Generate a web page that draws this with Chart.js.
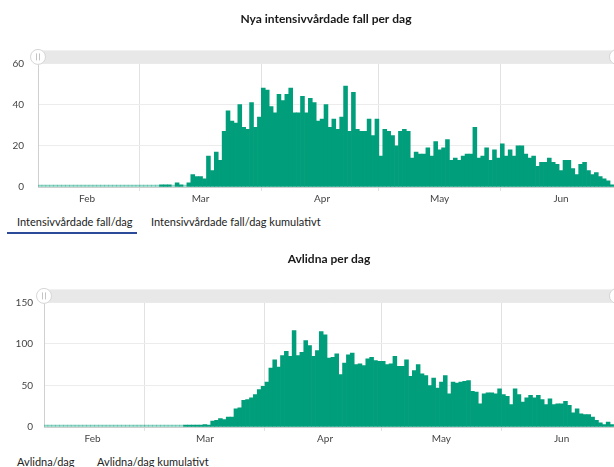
<!DOCTYPE html>
<html>
<head>
<meta charset="utf-8">
<script src="https://cdn.jsdelivr.net/npm/chart.js@4/dist/chart.umd.min.js"></script>
<style>
  body { margin: 0; background: #fff; width: 614px; height: 467px; overflow: hidden; position: relative; font-family: Lato, "Open Sans", sans-serif; }
  .box { position: absolute; left: 0; width: 614px; height: 207px; }
  #box1 { top: 0; }
  #box2 { top: 240px; }
  .tab { position: absolute; font-size: 11px; color: #222; white-space: nowrap; line-height: 14px; }
  .underline { position: absolute; left: 7px; width: 130px; height: 2px; top: 232px; background: #2c4a9a; }
</style>
</head>
<body>
<div class="box" id="box1"><canvas id="icuChart"></canvas></div>
<div class="tab" style="left:17px;top:215px">Intensivvårdade fall/dag</div>
<div class="tab" style="left:151px;top:215px">Intensivvårdade fall/dag kumulativt</div>
<div class="underline"></div>
<div class="box" id="box2"><canvas id="deathChart"></canvas></div>
<div class="tab" style="left:17px;top:455px">Avlidna/dag</div>
<div class="tab" style="left:97px;top:455px">Avlidna/dag kumulativt</div>
<script>
// months shown, 2020 (Feb starts on the 4th)
var months = ['Feb', 'Mar', 'Apr', 'May', 'Jun'];
var monthNum = [2, 3, 4, 5, 6];
var firstDay = [4, 1, 1, 1, 1];
var lastDay = [29, 31, 30, 31, 29];

// Nya intensivvårdade fall per dag
var icuFeb = [0,0,0,0,0,0,0,0,0,0,0,0,0,0,0,0,0,0,0,0,0,0,0,0,0,0];
var icuMar = [0,0,0,0,0,1,1,1,0,2,1,0,2,6,5,5,4,15,8,17,13,27,37,32,31,40,29,28,41,29,34];
var icuApr = [48,47,39,36,45,42,45,48,36,36,44,36,43,41,32,33,40,29,33,28,34,49,27,46,28,27,27,33,25,33];
var icuMay = [15,28,27,25,20,27,28,27,14,17,16,16,19,15,22,18,19,23,13,14,13,15,16,16,29,14,15,19,13,18,14];
var icuJun = [21,15,18,15,20,20,16,14,15,10,12,12,14,12,11,8,13,13,9,6,11,12,8,6,7,5,4,3,1];

// Avlidna per dag
var deathsFeb = [0,0,0,0,0,0,0,0,0,0,0,0,0,0,0,0,0,0,0,0,0,0,0,0,0,0];
var deathsMar = [0,0,0,0,0,0,0,0,0,0,1,1,1,2,2,3,2,7,8,10,9,12,12,22,23,32,33,35,39,45,49];
var deathsApr = [54,71,81,72,86,91,85,116,86,90,104,98,85,92,115,111,83,84,88,63,77,87,89,75,76,74,82,84,80,79];
var deathsMay = [79,75,76,85,73,73,81,61,68,75,64,62,50,59,47,54,62,40,54,53,54,55,56,43,42,28,40,41,41,40,46];
var deathsJun = [39,37,27,46,39,30,35,38,35,38,33,27,34,27,28,28,31,26,17,22,16,15,15,12,8,5,3,6,3];

var icuTicks = [0, 20, 40, 60];
var deathTicks = [0, 50, 100, 150];

var labels = [], dayOf = [], monthOf = [];
for (var m = 0; m < months.length; m++) {
  for (var d = firstDay[m]; d <= lastDay[m]; d++) {
    labels.push('2020-' + String(monthNum[m]).padStart(2, '0') + '-' + String(d).padStart(2, '0'));
    dayOf.push(d);
    monthOf.push(months[m]);
  }
}

var icu = icuFeb.concat(icuMar, icuApr, icuMay, icuJun);
var deaths = deathsFeb.concat(deathsMar, deathsApr, deathsMay, deathsJun);

var green = 'rgb(0,158,123)';

// grey scroll band with handles above the plot
var scrollbar = {
  id: 'scrollbar',
  afterDraw: function (chart) {
    var c = chart.ctx, a = chart.chartArea;
    c.save();
    c.fillStyle = '#e8e8e8';
    c.fillRect(a.left, a.top - 13, a.right - a.left + 10, 13);
    [a.left, a.right + 3].forEach(function (x) {
      var y = a.top - 6.5;
      c.beginPath();
      c.arc(x, y, 7.5, 0, Math.PI * 2);
      c.fillStyle = '#fff';
      c.fill();
      c.strokeStyle = '#d6d6d6';
      c.lineWidth = 1;
      c.stroke();
      c.strokeStyle = '#c4c4c4';
      c.beginPath();
      c.moveTo(x - 1.5, y - 3.5); c.lineTo(x - 1.5, y + 3.5);
      c.moveTo(x + 1.5, y - 3.5); c.lineTo(x + 1.5, y + 3.5);
      c.stroke();
    });
    c.restore();
  }
};

function makeChart(id, title, values, ticks, axisWidth, tickPad, titleBottom) {
  return new Chart(document.getElementById(id), {
    type: 'bar',
    data: {
      labels: labels,
      datasets: [{
        data: values,
        backgroundColor: function (ctx) { return ctx.raw === 0 ? 'rgba(0,158,123,0.45)' : green; },
        barPercentage: 1,
        categoryPercentage: 1,
        borderWidth: 0,
        minBarLength: 2
      }]
    },
    options: {
      responsive: true,
      maintainAspectRatio: false,
      animation: false,
      layout: { padding: 0 },
      plugins: {
        legend: { display: false },
        tooltip: { enabled: false },
        title: {
          display: true,
          fullSize: false,
          text: title,
          color: '#1a1a1a',
          font: { family: 'Lato', size: 12, weight: 'bold' },
          padding: { top: 12, bottom: titleBottom }
        }
      },
      scales: {
        x: {
          grid: {
            offset: true,
            color: function (ctx) { return ctx.index < dayOf.length && dayOf[ctx.index] === 1 ? '#e2e2e2' : 'rgba(0,0,0,0)'; },
            tickLength: 4
          },
          border: { color: '#cfcfcf' },
          ticks: {
            autoSkip: false,
            maxRotation: 0,
            padding: 2,
            color: '#444',
            font: { family: 'Lato', size: 10 },
            callback: function (v, i) { return dayOf[i] === 16 ? monthOf[i] : ''; }
          }
        },
        y: {
          min: ticks[0],
          max: ticks[ticks.length - 1],
          afterBuildTicks: function (axis) { axis.ticks = ticks.map(function (t) { return { value: t }; }); },
          afterFit: function (axis) { axis.width = axisWidth; },
          grid: { color: '#ececec', drawTicks: false },
          border: { color: '#d0d0d0' },
          ticks: { padding: tickPad, color: '#444', font: { family: 'Lato', size: 10 } }
        }
      }
    },
    plugins: [scrollbar]
  });
}

makeChart('icuChart', 'Nya intensivvårdade fall per dag', icu, icuTicks, 38, 14, 37);
makeChart('deathChart', 'Avlidna per dag', deaths, deathTicks, 44, 11, 36);
</script>
</body>
</html>
